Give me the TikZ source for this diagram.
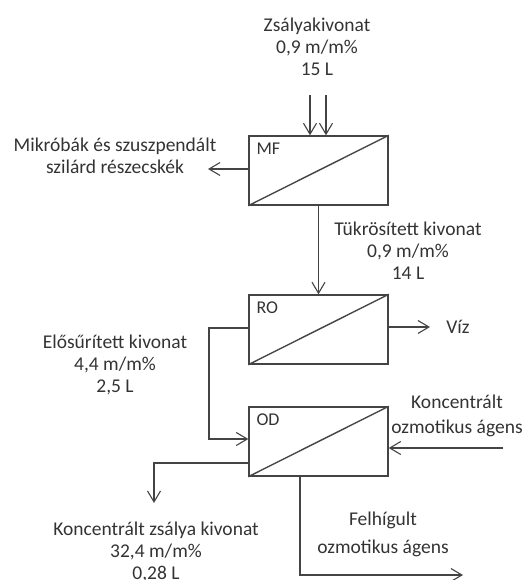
\documentclass[tikz,border=0pt]{standalone}
\usepackage{fontspec}
\setmainfont{Carlito}
\usetikzlibrary{arrows.meta}
\definecolor{txt}{HTML}{333333}
\definecolor{ln}{HTML}{444444}
\tikzset{
  unit/.style={draw=ln, line width=1.4pt, minimum width=139pt, minimum height=69pt, inner sep=0pt},
  ulabel/.style={anchor=north west, inner sep=0pt, text=txt, font=\fontsize{18}{20}\selectfont},
  lbl/.style={align=center, text=txt, inner sep=0pt, font=\fontsize{19.5}{22}\selectfont},
  arr/.style={draw=ln, line width=1.4pt, -{Straight Barb[length=11pt,width=13pt,line width=1.1pt]}},
  conn/.style={draw=ln, line width=1.4pt}
}
\begin{document}
\begin{tikzpicture}[x=1pt,y=-1pt]
\useasboundingbox (0,0) rectangle (530,580);
% units
\node[unit] (MF) at (318.5,170.5) {};
\node[unit] (RO) at (318.5,329.5) {};
\node[unit] (OD) at (318.5,441.5) {};
\draw[conn] (MF.south west) -- (MF.north east);
\draw[conn] (RO.south west) -- (RO.north east);
\draw[conn] (OD.south west) -- (OD.north east);
\node[ulabel] (MFl) at ([xshift=8pt,yshift=-7pt]MF.north west) {MF};
\node[ulabel] (ROl) at ([xshift=8pt,yshift=-7pt]RO.north west) {RO};
\node[ulabel] (ODl) at ([xshift=8pt,yshift=-7pt]OD.north west) {OD};
% texts
\node[lbl] (feed) at (317,46.5) {Zsályakivonat\\0,9 m/m\%\\15 L};
\node[lbl] (mikro) at (115,156) {Mikróbák és szuszpendált\\szilárd részecskék};
\node[lbl] (tukr) at (408,251) {Tükrösített kivonat\\0,9 m/m\%\\14 L};
\node[lbl] (viz) at (458,327) {Víz};
\node[lbl] (elo) at (115,365) {Elősűrített kivonat\\4,4 m/m\%\\2,5 L};
\node[lbl] (koz) at (457,415.5) {Koncentrált\\[3pt]ozmotikus ágens};
\node[lbl] (kzs) at (156,552) {Koncentrált zsálya kivonat\\32,4 m/m\%\\0,28 L};
\node[lbl] (fel) at (383,534) {Felhígult\\[6pt]ozmotikus ágens};
% coordinates
\coordinate (in1) at (310,95);
\coordinate (in2) at (326,95);
\coordinate (mfout) at (208,169);
\coordinate (vizend) at (430,327);
\coordinate (rocorner) at (209,328);
\coordinate (kin) at (503,448);
\coordinate (codout) at (154,503);
\coordinate (felend) at (463,575);
% connectors
\draw[arr] (in1) -- (in1 |- MF.north);
\draw[arr] (in2) -- (in2 |- MF.north);
\draw[arr] (MF.west |- mfout) -- (mfout);
\draw[arr] (MF.south) -- (RO.north);
\draw[arr] (RO.east |- vizend) -- (vizend);
\draw[arr] (RO.west |- rocorner) -- (rocorner) |- ([yshift=2.5pt]OD.west);
\draw[arr] (kin) -- (OD.east |- kin);
\draw[arr] ([yshift=-21.5pt]OD.west) -| (codout);
\draw[arr] ([xshift=-18.5pt]OD.south) |- (felend);
\end{tikzpicture}
\end{document}
